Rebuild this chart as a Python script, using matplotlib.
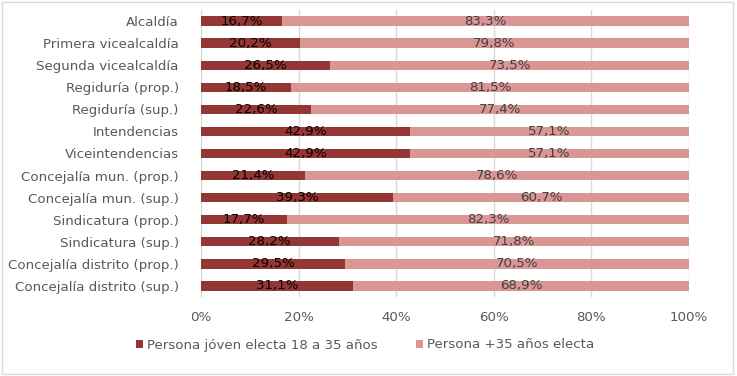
import matplotlib
matplotlib.use("Agg")
import matplotlib.pyplot as plt
from matplotlib.patches import Rectangle

categories = ["Alcaldía", "Primera vicealcaldía", "Segunda vicealcaldía", "Regiduría (prop.)",
              "Regiduría (sup.)", "Intendencias", "Viceintendencias", "Concejalía mun. (prop.)",
              "Concejalía mun. (sup.)", "Sindicatura (prop.)", "Sindicatura (sup.)",
              "Concejalía distrito (prop.)", "Concejalía distrito (sup.)"]
young = [16.7, 20.2, 26.5, 18.5, 22.6, 42.9, 42.9, 21.4, 39.3, 17.7, 28.2, 29.5, 31.1]
older = [83.3, 79.8, 73.5, 81.5, 77.4, 57.1, 57.1, 78.6, 60.7, 82.3, 71.8, 70.5, 68.9]
series_names = ["Persona jóven electa 18 a 35 años", "Persona +35 años electa"]
xticks = [0, 20, 40, 60, 80, 100]

dark = "#943634"
light = "#D99694"
txt = "#595959"
fs = 9.6

plt.rcParams['font.family'] = ['DejaVu Sans']
fig = plt.figure(figsize=(7.37, 3.76), dpi=100)
ax = fig.add_axes([201/737, 1 - 297/376, (689-201)/737, (297-10)/376])

y = list(range(len(categories)))
b1 = ax.barh(y, young, height=0.42, color=dark, label=series_names[0], zorder=3)
b2 = ax.barh(y, older, left=young, height=0.42, color=light, label=series_names[1], zorder=3)

for i in y:
    ax.text(young[i] / 2, i, f"{young[i]:.1f}%".replace(".", ","), ha="center", va="center",
            fontsize=fs, color="black", zorder=4)
    ax.text(young[i] + older[i] / 2, i, f"{older[i]:.1f}%".replace(".", ","), ha="center",
            va="center", fontsize=fs, color="#404040", zorder=4)

ax.set_xlim(0, 100)
ax.set_ylim(len(categories) - 0.5, -0.5)
ax.set_yticks(y)
ax.set_yticklabels(categories, fontsize=fs, color=txt)
ax.set_xticks(xticks)
ax.set_xticklabels([f"{t}%" for t in xticks], fontsize=fs, color=txt)
ax.tick_params(axis="y", length=0, pad=16)
ax.tick_params(axis="x", length=0, pad=10)
ax.grid(axis="x", color="#D9D9D9", linewidth=1, zorder=0)
for s in ["top", "right", "bottom"]:
    ax.spines[s].set_visible(False)
ax.spines["left"].set_color("#D9D9D9")

leg = fig.legend(handles=[b1, b2], labels=series_names, loc="center", bbox_to_anchor=(0.495, 1 - 345/376),
                 ncol=2, frameon=False, fontsize=fs, handlelength=0.55, handleheight=0.55,
                 handletextpad=0.25, columnspacing=2.9)
for t in leg.get_texts():
    t.set_color(txt)

fig.patches.append(Rectangle((0.003, 0.005), 0.992, 0.99, transform=fig.transFigure,
                             fill=False, edgecolor="#D9D9D9", linewidth=1))
fig.savefig("out.png", dpi=100)
